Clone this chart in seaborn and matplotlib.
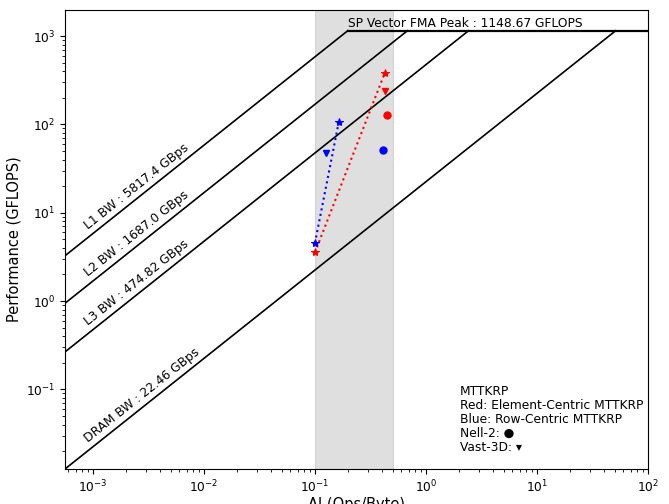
import matplotlib
matplotlib.use("Agg")
import matplotlib.pyplot as plt
import numpy as np
import pandas as pd
import seaborn as sns

# roofline ceilings
bw_names = ["L1", "L2", "L3", "DRAM"]
bw_values = [5817.4, 1687.0, 474.82, 22.46]
peak_name = "SP Vector FMA Peak"
peak_value = 1148.67

# measured kernels (AI, GFLOPS)
red_star_ai = [0.1, 0.425]
red_star_perf = [3.56, 381.0]
blue_star_ai = [0.1, 0.164]
blue_star_perf = [4.55, 107.0]
nell_ai = [0.443, 0.41]
nell_perf = [128.0, 51.0]
nell_color = ["red", "blue"]
vast_ai = [0.425, 0.125]
vast_perf = [241.0, 48.0]
vast_color = ["red", "blue"]

x_min, x_max = 5.6e-4, 100
y_min, y_max = 22.46 * 5.6e-4, 1970

legend_text = ("MTTKRP\nRed: Element-Centric MTTKRP\nBlue: Row-Centric MTTKRP\n"
               "Nell-2: \u25cf\nVast-3D: \u25be")

plt.rcParams["font.size"] = 8.8

fig, ax = plt.subplots(figsize=(6.69, 5.04), dpi=100)
plt.subplots_adjust(left=65 / 669, right=648 / 669, top=1 - 10 / 504, bottom=1 - 469 / 504)
ax.set_xscale("log")
ax.set_yscale("log")
ax.set_xlim(x_min, x_max)
ax.set_ylim(y_min, y_max)

ax.axvspan(0.1, 0.5, color="gray", alpha=0.25, lw=0.8)

# bandwidth ceilings up to the ridge point
for name, bw in zip(bw_names, bw_values):
    ridge = peak_value / bw
    df = pd.DataFrame({"ai": [x_min, ridge], "perf": [bw * x_min, peak_value]})
    sns.lineplot(data=df, x="ai", y="perf", color="black", lw=1.2, ax=ax)

ridge_l1 = peak_value / max(bw_values)
peak_df = pd.DataFrame({"ai": [ridge_l1, x_max], "perf": [peak_value, peak_value]})
sns.lineplot(data=peak_df, x="ai", y="perf", color="black", lw=1.6, ax=ax)

fig.canvas.draw()
p1 = ax.transData.transform((1e-3, 1.0))
p2 = ax.transData.transform((1e-2, 10.0))
angle = np.degrees(np.arctan2(p2[1] - p1[1], p2[0] - p1[0]))

lx = 9.07e-4
for name, bw in zip(bw_names, bw_values):
    ax.text(lx, bw * lx * 1.22, f"{name} BW : {bw} GBps", rotation=angle,
            rotation_mode="anchor", ha="left", va="baseline")
ax.text(ridge_l1, peak_value * 1.11, f"{peak_name} : {peak_value} GFLOPS",
        ha="left", va="baseline")

# kernels
for xs, ys, c in [(red_star_ai, red_star_perf, "red"), (blue_star_ai, blue_star_perf, "blue")]:
    df = pd.DataFrame({"ai": xs, "perf": ys})
    sns.lineplot(data=df, x="ai", y="perf", color=c, ls=":", marker="*",
                 markersize=6, markeredgecolor=c, ax=ax)

for x, y, c in zip(nell_ai, nell_perf, nell_color):
    ax.plot(x, y, marker="o", color=c, markersize=5, ls="none")
for x, y, c in zip(vast_ai, vast_perf, vast_color):
    ax.plot(x, y, marker="v", color=c, markersize=5, ls="none")

ax.text(2.02, 0.0201, legend_text, ha="left", va="baseline", linespacing=1.1)

ax.set_xlabel("AI (Ops/Byte)", fontsize=10.56, labelpad=1)
ax.set_ylabel("Performance (GFLOPS)", fontsize=10.56, labelpad=3)

plt.savefig("out.png", dpi=100)
